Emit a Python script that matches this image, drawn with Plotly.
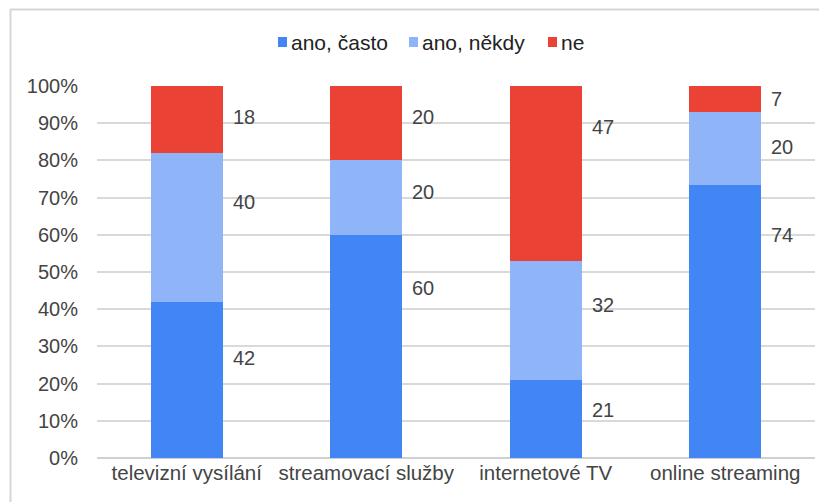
import plotly.graph_objects as go

categories = ["televizní vysílání", "streamovací služby", "internetové TV", "online streaming"]
series_names = ["ano, často", "ano, někdy", "ne"]
often = [42, 60, 21, 74]
sometimes = [40, 20, 32, 20]
never = [18, 20, 47, 7]
values = [often, sometimes, never]
tick_vals = [0, 10, 20, 30, 40, 50, 60, 70, 80, 90, 100]
tick_text = ["0%", "10%", "20%", "30%", "40%", "50%", "60%", "70%", "80%", "90%", "100%"]

colors = ["#4285F4", "#8FB4F7", "#EA4335"]
# label anchor heights (in % axis units), as placed in the reference
label_y = [
    [26.9, 45.7, 12.9, 60.0],
    [68.8, 71.5, 41.0, 83.6],
    [91.7, 91.7, 89.0, 96.5],
]

FONT = "Liberation Sans, Arial, sans-serif"
TXT = "#444444"

fig = go.Figure()
for name, vals, col in zip(series_names, values, colors):
    fig.add_trace(go.Bar(name=name, x=categories, y=vals, marker_color=col,
                         marker_line_width=0, width=0.4, hoverinfo="skip",
                         showlegend=False))

annotations = []
for si, vals in enumerate(values):
    for ci, cat in enumerate(categories):
        annotations.append(dict(x=cat, y=label_y[si][ci], xref="x", yref="y",
                                text=str(vals[ci]), showarrow=False,
                                xanchor="left", yanchor="middle", xshift=44,
                                font=dict(family=FONT, size=20, color=TXT)))

# page has an 8px body margin, so figure coords = screenshot coords - 8
OFF = 8
W, H = 827 - OFF, 502 - OFF
ml, mr, mt, mb = 97 - OFF, 12, 86 - OFF, 44
pw, ph = W - ml - mr, H - mt - mb
def px(x):
    return (x - OFF - ml) / pw
def py(y):
    return (H - mb - (y - OFF)) / ph

shapes = [
    dict(type="line", xref="paper", yref="paper", x0=px(10.5), x1=px(10.5), y0=py(9), y1=py(510),
         line=dict(color="#d6d6d6", width=2)),
    dict(type="line", xref="paper", yref="paper", x0=px(10.5), x1=px(835), y0=py(9.5), y1=py(9.5),
         line=dict(color="#d6d6d6", width=2)),
]

# hand-drawn legend (compact marker/text spacing as in the reference)
legend_x = [278, 409, 548]
legend_y = 42
for name, col, lx in zip(series_names, colors, legend_x):
    shapes.append(dict(type="rect", xref="paper", yref="paper",
                       x0=px(lx), x1=px(lx + 9), y0=py(legend_y + 5), y1=py(legend_y - 5),
                       fillcolor=col, line=dict(width=0)))
    annotations.append(dict(x=px(lx + 11), y=py(legend_y), xref="paper", yref="paper",
                            text=name, showarrow=False, xanchor="left", yanchor="middle",
                            font=dict(family=FONT, size=21, color="#222222")))

fig.update_layout(
    barmode="stack", barnorm="percent",
    width=W, height=H,
    margin=dict(l=ml, r=mr, t=mt, b=mb, pad=0),
    paper_bgcolor="white", plot_bgcolor="white",
    font=dict(family=FONT, size=20, color=TXT),
    showlegend=False,
    xaxis=dict(type="category", showgrid=False, showline=False, ticks="",
               tickfont=dict(family=FONT, size=20.5, color=TXT)),
    yaxis=dict(range=[0, 100], tickvals=tick_vals, ticktext=tick_text, showgrid=True,
               gridcolor="#d9d9d9", gridwidth=1.5, zeroline=True, zerolinecolor="#d0d0d0",
               zerolinewidth=2, showline=False, ticks="", ticklabelstandoff=18,
               tickfont=dict(family=FONT, size=20, color=TXT)),
    annotations=annotations,
    shapes=shapes,
)

fig.write_html("out.html")
